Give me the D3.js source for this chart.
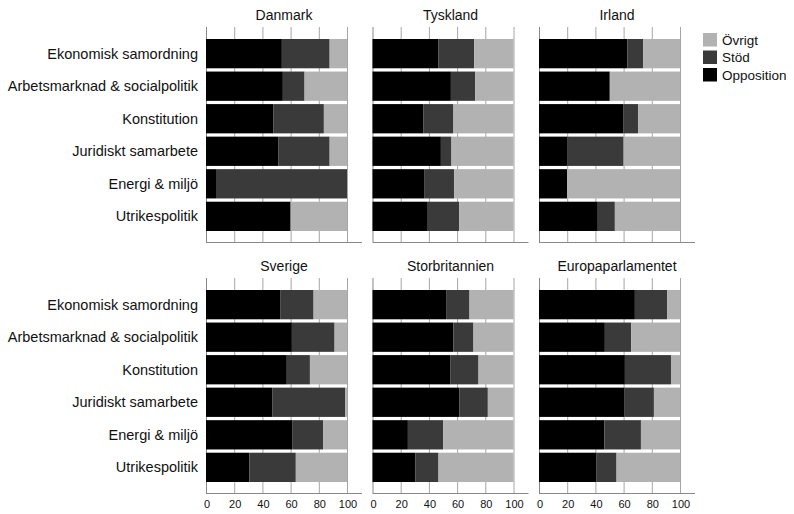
<!DOCTYPE html>
<html>
<head>
<meta charset="utf-8">
<script src="https://cdn.jsdelivr.net/npm/d3@7"></script>
<style>
  body { margin: 0; background: #fff; }
  svg { display: block; font-family: "Liberation Sans", Arial, Helvetica, sans-serif; }
</style>
</head>
<body>
<svg id="chart" width="794" height="514"></svg>
<script>
// ---- data ----
const categories = ["Ekonomisk samordning", "Arbetsmarknad & socialpolitik", "Konstitution",
  "Juridiskt samarbete", "Energi & miljö", "Utrikespolitik"];
const panels = ["Danmark", "Tyskland", "Irland", "Sverige", "Storbritannien", "Europaparlamentet"];
const seriesNames = ["Opposition", "Stöd", "Övrigt"];
const legendOrder = ["Övrigt", "Stöd", "Opposition"];
const xTicks = [0, 20, 40, 60, 80, 100];

// Opposition share per panel (same order as categories)
const opposition = {
  "Danmark":           [53.8, 54.5, 47.9, 51.2, 7.1, 60.0],
  "Tyskland":          [46.8, 55.6, 36.2, 48.5, 36.6, 39.2],
  "Irland":            [62.6, 50.2, 59.7, 19.9, 19.9, 41.7],
  "Sverige":           [52.6, 60.9, 57.3, 47.2, 61.1, 30.8],
  "Storbritannien":    [52.2, 57.4, 55.1, 61.7, 25.1, 30.3],
  "Europaparlamentet": [68.0, 46.7, 60.9, 60.7, 46.4, 40.8]
};
// Stöd share per panel
const stod = {
  "Danmark":           [33.9, 15.4, 35.7, 36.5, 92.9, 0.0],
  "Tyskland":          [25.3, 17.2, 21.2, 7.5, 21.3, 22.3],
  "Irland":            [11.3, 0.0, 10.7, 40.1, 0.0, 12.1],
  "Sverige":           [23.7, 30.3, 16.4, 51.4, 22.1, 32.9],
  "Storbritannien":    [16.6, 14.2, 20.1, 20.1, 25.0, 16.5],
  "Europaparlamentet": [23.0, 18.7, 32.7, 20.8, 25.9, 14.2]
};
// Övrigt share per panel
const ovrigt = {
  "Danmark":           [12.3, 30.1, 16.4, 12.3, 0.0, 40.0],
  "Tyskland":          [27.9, 27.2, 42.6, 44.0, 42.1, 38.5],
  "Irland":            [26.1, 49.8, 29.6, 40.0, 80.1, 46.2],
  "Sverige":           [23.7, 8.8, 26.3, 1.4, 16.8, 36.3],
  "Storbritannien":    [31.2, 28.4, 24.8, 18.2, 49.9, 53.2],
  "Europaparlamentet": [9.0, 34.6, 6.4, 18.5, 27.7, 45.0]
};

const colors = { "Opposition": "#000000", "Stöd": "#3a3a3a", "Övrigt": "#b2b2b2" };

// ---- layout ----
const svg = d3.select("#chart");
const colX = [206, 372.5, 539];
const rowY = [27, 278];
const plotW = 141;
const panelH = 215;
const gridColor = "#a6a6a6";

const x = d3.scaleLinear().domain([0, 100]).range([0, plotW]);
const y = d3.scaleBand().domain(categories).range([12, 204]).paddingInner(0.1).paddingOuter(0);

const stackGen = d3.stack().keys(seriesNames);

panels.forEach((p, i) => {
  const col = i % 3, row = Math.floor(i / 3);
  const g = svg.append("g").attr("transform", `translate(${colX[col]},${rowY[row]})`);

  // title
  g.append("text")
    .attr("x", (plotW + 15) / 2)
    .attr("y", -7)
    .attr("text-anchor", "middle")
    .attr("font-size", 14)
    .attr("fill", "#111")
    .text(p);

  // gridlines
  g.selectAll("line.grid").data(xTicks).enter().append("line")
    .attr("class", "grid")
    .attr("x1", d => x(d) + 0.5).attr("x2", d => x(d) + 0.5)
    .attr("y1", 0).attr("y2", panelH)
    .attr("stroke", d => d === 0 ? "#888" : gridColor)
    .attr("stroke-width", 1);

  // bottom line
  g.append("line")
    .attr("x1", 0).attr("x2", plotW + 15)
    .attr("y1", panelH + 0.5).attr("y2", panelH + 0.5)
    .attr("stroke", "#888").attr("stroke-width", 1);

  // data rows
  const rows = categories.map((c, k) => ({
    cat: c,
    "Opposition": opposition[p][k],
    "Stöd": stod[p][k],
    "Övrigt": ovrigt[p][k]
  }));
  const stacked = stackGen(rows);
  stacked.forEach(s => {
    g.append("g").attr("fill", colors[s.key])
      .selectAll("rect").data(s).enter().append("rect")
      .attr("x", d => x(d[0]))
      .attr("y", d => y(d.data.cat))
      .attr("width", d => Math.max(0, x(Math.min(100, d[1])) - x(d[0])))
      .attr("height", y.bandwidth());
  });

  // category labels (left column)
  if (col === 0) {
    g.selectAll("text.cat").data(categories).enter().append("text")
      .attr("class", "cat")
      .attr("x", -8)
      .attr("y", d => y(d) + y.bandwidth() / 2)
      .attr("dy", "0.35em")
      .attr("text-anchor", "end")
      .attr("font-size", 14.5)
      .attr("fill", "#111")
      .text(d => d);
  }

  // x axis labels (bottom row)
  if (row === 1) {
    const ax = d3.axisBottom(x).tickValues(xTicks).tickSize(0).tickPadding(0).tickFormat(d3.format("d"));
    const axg = g.append("g").attr("transform", `translate(0.5,${panelH + 7})`).call(ax);
    axg.select(".domain").remove();
    axg.selectAll("text").attr("font-size", 11).attr("fill", "#111")
      .attr("font-family", "'Liberation Sans', Arial, sans-serif");
  }
});

// legend
const lg = svg.append("g").attr("transform", "translate(703,33)");
legendOrder.forEach((k, i) => {
  const yy = i * 17.5;
  lg.append("rect").attr("x", 0).attr("y", yy).attr("width", 14).attr("height", 13.5).attr("fill", colors[k]);
  lg.append("text").attr("x", 19).attr("y", yy + 7).attr("dy", "0.35em")
    .attr("font-size", 13.5).attr("fill", "#111").text(k);
});
</script>
</body>
</html>
